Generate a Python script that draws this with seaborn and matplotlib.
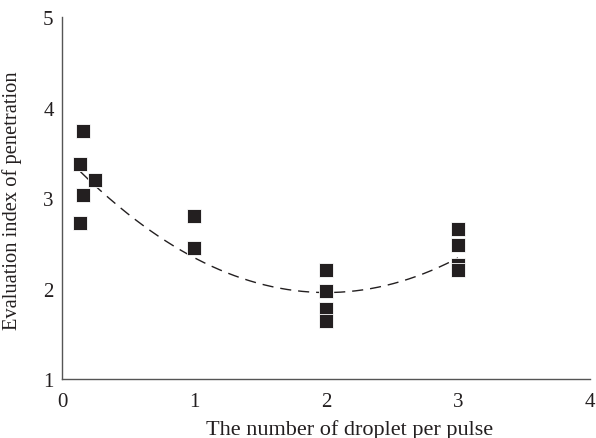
import numpy as np
import matplotlib
matplotlib.use("Agg")
import matplotlib.pyplot as plt
import seaborn as sns
import pandas as pd

# Droplets per pulse and the penetration evaluation index measured for each
droplets = [0.16, 0.14, 0.25, 0.16, 0.14, 1, 1, 2, 2, 2, 2, 3, 3, 3, 3]
penetration = [3.74, 3.38, 3.20, 3.04, 2.73, 2.80, 2.45,
               2.21, 1.98, 1.78, 1.64, 2.66, 2.48, 2.26, 2.21]

# Quadratic trend (a*x^2 + b*x + c) and the x range it covers
trend_coeffs = [0.385, -1.542, 3.502]
trend_range = [0.14, 3.0]

x_ticks = [0, 1, 2, 3, 4]
y_ticks = [1, 2, 3, 4, 5]

sns.set_theme(style="white")
plt.rcParams["font.family"] = ["Liberation Serif", "DejaVu Serif"]

fig = plt.figure(figsize=(5.96, 4.39), dpi=100)
ax = fig.add_axes([0.104, 0.134, 0.886, 0.824])

df = pd.DataFrame({"x": droplets, "y": penetration})
sns.scatterplot(data=df, x="x", y="y", marker="s", s=95, color="#231f20",
                edgecolor="white", linewidth=0.6, ax=ax, zorder=3)

xs = np.linspace(trend_range[0], trend_range[1], 200)
sns.lineplot(x=xs, y=np.polyval(trend_coeffs, xs), ax=ax, color="#231f20",
             linewidth=1.0, dashes=False, zorder=2)
ax.lines[-1].set_dashes((8, 5))

ax.set_xlim(0, 4)
ax.set_ylim(1, 5)
ax.set_xticks(x_ticks)
ax.set_yticks(y_ticks)
ax.set_xticklabels([str(t) for t in x_ticks])
ax.set_yticklabels([str(t) for t in y_ticks])

for side in ["top", "right"]:
    ax.spines[side].set_visible(False)
for side in ["left", "bottom"]:
    ax.spines[side].set_color("#555555")
    ax.spines[side].set_linewidth(1.0)

ax.tick_params(axis="both", direction="in", length=5, width=1.0,
               color="#555555", labelsize=15, labelcolor="#231f20")
ax.tick_params(axis="x", pad=9.5)
ax.tick_params(axis="y", pad=6)

ax.set_xlabel("The number of droplet per pulse", fontsize=16, color="#231f20")
ax.set_ylabel("Evaluation index of penetration", fontsize=14.8, color="#231f20")
ax.xaxis.set_label_coords(0.5445, -0.109)
ax.yaxis.set_label_coords(-0.076, 0.495)

fig.savefig("out.png", dpi=100)
